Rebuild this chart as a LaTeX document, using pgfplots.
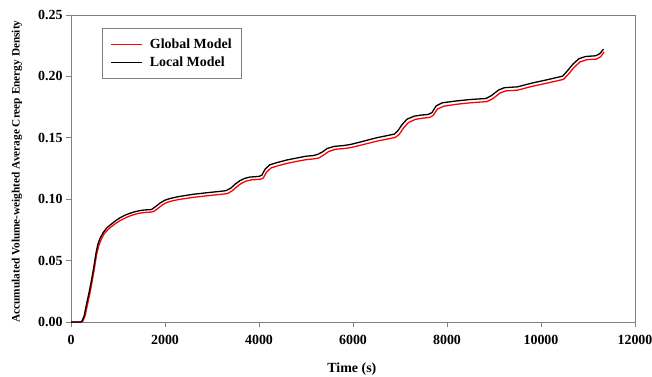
\documentclass[border=0pt]{standalone}
\usepackage{fontspec}
\setmainfont{Liberation Serif}
\usepackage{pgfplots}
\pgfplotsset{compat=1.18}
\definecolor{axgray}{HTML}{808080}
\definecolor{gred}{HTML}{FF0000}
\begin{document}
\begin{tikzpicture}
\begin{axis}[
  scale only axis,
  width=564bp, height=307bp,
  xmin=0, xmax=12000, ymin=0, ymax=0.25,
  xtick={0,2000,4000,6000,8000,10000,12000},
  ytick={0,0.05,0.10,0.15,0.20,0.25},
  scaled x ticks=false, scaled y ticks=false,
  xticklabel style={yshift=-5bp,/pgf/number format/.cd,fixed,1000 sep={},assume math mode=true},
  yticklabel style={/pgf/number format/.cd,fixed,fixed zerofill,precision=2,assume math mode=true},
  tick label style={font=\bfseries\fontsize{14}{16}\selectfont},
  tick align=outside,
  xtick pos=bottom, ytick pos=left,
  major tick length=5bp,
  axis line style={axgray, line width=0.8bp},
  tick style={axgray, line width=0.8bp},
  xlabel={Time (s)},
  ylabel={Accumulated Volume-weighted Average Creep Energy Density},
  xlabel style={font=\bfseries\fontsize{14}{16}\selectfont, at={(axis description cs:0.498,0)}, anchor=center, yshift=-47.5bp},
  ylabel style={font=\bfseries\fontsize{11.35}{13}\selectfont, at={(axis description cs:-0.0957,0.49)}, anchor=center},
  legend style={at={(0,1)}, anchor=north west, xshift=30.7bp, yshift=-13.3bp,
    draw=axgray, line width=0.8bp, font=\bfseries\fontsize{14}{16}\selectfont,
    nodes={inner sep=1.5bp, text height=10bp, text depth=3bp},
    inner xsep=8bp, inner ysep=8bp, row sep=2bp,
    /tikz/every odd column/.append style={column sep=6bp}},
  legend cell align=left,
  legend image code/.code={\draw[#1, line width=1.3bp] (0bp,0bp) -- (31bp,0bp);},
]
\coordinate (sw) at (rel axis cs:0,0);
\addplot[gred, line width=1.3bp] coordinates {
(0,0) (220,0) (250,0.0005) (300,0.005) (350,0.014) (400,0.023) (450,0.033) (500,0.044) (545,0.055) (590,0.062) (640,0.067) (700,0.0715) (780,0.0750) (870,0.0780) (970,0.0808) (1060,0.0829) (1170,0.0850) (1270,0.0866) (1370,0.0878) (1470,0.0887) (1570,0.0892) (1700,0.0895) (1760,0.0900) (1850,0.0925) (1950,0.0955) (2050,0.0975) (2150,0.0986) (2300,0.0998) (2600,0.1015) (2900,0.1028) (3200,0.1040) (3330,0.1046) (3430,0.1068) (3530,0.1103) (3630,0.1130) (3730,0.1148) (3850,0.1158) (3950,0.1160) (4030,0.1162) (4090,0.1172) (4160,0.1220) (4260,0.1255) (4400,0.1272) (4600,0.1292) (4800,0.1308) (5000,0.1322) (5150,0.1328) (5270,0.1335) (5370,0.1358) (5480,0.1388) (5630,0.1407) (5800,0.1412) (5950,0.1420) (6200,0.1443) (6500,0.1472) (6900,0.1503) (6980,0.1527) (7080,0.1582) (7180,0.1625) (7330,0.1650) (7480,0.1660) (7620,0.1665) (7700,0.1680) (7800,0.1735) (7930,0.1757) (8200,0.1773) (8500,0.1785) (8850,0.1795) (8980,0.1820) (9130,0.1865) (9250,0.1882) (9500,0.1888) (9800,0.1918) (10100,0.1943) (10480,0.1976) (10570,0.2012) (10700,0.2072) (10830,0.2118) (10970,0.2136) (11180,0.2141) (11270,0.2160) (11340,0.2198)
};
\addlegendentry{Global Model}
\addplot[black, line width=1.3bp] coordinates {
(0,0) (200,0) (230,0.0005) (280,0.005) (333,0.015) (390,0.025) (440,0.035) (490,0.046) (531,0.056) (570,0.063) (616,0.068) (680,0.0725) (758,0.0765) (850,0.0795) (950,0.0825) (1041,0.0848) (1150,0.087) (1250,0.0885) (1350,0.0897) (1450,0.0906) (1550,0.0912) (1650,0.0914) (1713,0.0916) (1800,0.094) (1900,0.097) (2000,0.0992) (2100,0.1005) (2300,0.1022) (2600,0.1040) (2900,0.1053) (3200,0.1065) (3300,0.1070) (3400,0.109) (3500,0.1125) (3600,0.1152) (3700,0.1170) (3800,0.1180) (3900,0.1183) (4000,0.1186) (4060,0.1195) (4130,0.1245) (4230,0.1280) (4400,0.1300) (4600,0.1320) (4800,0.1335) (5000,0.1350) (5150,0.1355) (5250,0.1365) (5350,0.1385) (5450,0.1413) (5600,0.1430) (5800,0.1437) (5950,0.1446) (6200,0.1470) (6500,0.1500) (6880,0.1530) (6950,0.1555) (7050,0.1610) (7150,0.1652) (7300,0.1676) (7450,0.1685) (7600,0.1690) (7680,0.1705) (7770,0.1760) (7900,0.1785) (8200,0.1800) (8500,0.1812) (8830,0.1820) (8950,0.1845) (9100,0.1890) (9220,0.1908) (9500,0.1915) (9800,0.1945) (10100,0.1970) (10460,0.2002) (10550,0.2040) (10680,0.2100) (10810,0.2145) (10950,0.2162) (11165,0.2168) (11250,0.2185) (11330,0.2222)
};
\addlegendentry{Local Model}
\end{axis}
\pgfresetboundingbox
\path (sw) ++(-71bp,-55bp) rectangle ++(652bp,377bp);
\end{tikzpicture}
\end{document}
